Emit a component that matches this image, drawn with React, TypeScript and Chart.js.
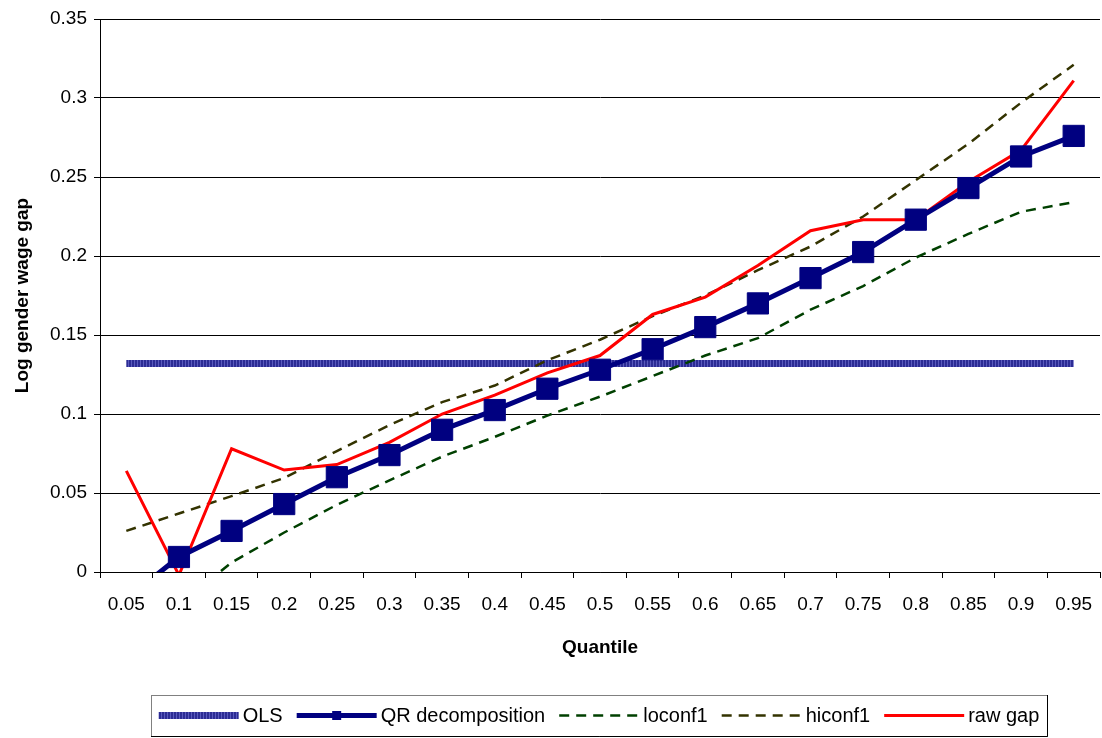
import React, { useEffect, useRef } from 'react';
import { Chart, registerables } from 'chart.js';

Chart.register(...registerables);

const quantiles = ['0.05', '0.1', '0.15', '0.2', '0.25', '0.3', '0.35', '0.4', '0.45', '0.5', '0.55', '0.6', '0.65', '0.7', '0.75', '0.8', '0.85', '0.9', '0.95'];
const olsValues = [0.132, 0.132, 0.132, 0.132, 0.132, 0.132, 0.132, 0.132, 0.132, 0.132, 0.132, 0.132, 0.132, 0.132, 0.132, 0.132, 0.132, 0.132, 0.132];
const qrValues = [-0.017, 0.0095, 0.026, 0.043, 0.06, 0.074, 0.09, 0.1025, 0.116, 0.128, 0.141, 0.155, 0.17, 0.186, 0.2025, 0.223, 0.243, 0.263, 0.276];
const loconfValues = [-0.045, -0.021, 0.006, 0.025, 0.0425, 0.058, 0.073, 0.0855, 0.099, 0.111, 0.124, 0.137, 0.148, 0.166, 0.181, 0.199, 0.214, 0.228, 0.234];
const hiconfValues = [0.026, 0.037, 0.048, 0.0595, 0.0765, 0.093, 0.1075, 0.118, 0.134, 0.147, 0.162, 0.175, 0.191, 0.206, 0.225, 0.248, 0.271, 0.297, 0.321];
const rawGapValues = [0.064, -0.002, 0.078, 0.0645, 0.068, 0.082, 0.1, 0.112, 0.126, 0.137, 0.163, 0.174, 0.194, 0.216, 0.223, 0.223, 0.247, 0.267, 0.311];
const seriesNames = ['OLS', 'QR decomposition', 'loconf1', 'hiconf1', 'raw gap'];
const yTitle = 'Log gender wage gap';
const xTitle = 'Quantile';

const FONT = '"Liberation Sans", Arial, Helvetica, sans-serif';

export default function App() {
  const ref = useRef<HTMLCanvasElement>(null);

  useEffect(() => {
    document.body.style.margin = '0';
    document.body.style.overflow = 'hidden';
    document.documentElement.style.overflow = 'hidden';
    const canvas = ref.current!;
    const pc = document.createElement('canvas');
    pc.width = 3;
    pc.height = 8;
    const pctx = pc.getContext('2d')!;
    pctx.fillStyle = '#2c2c94';
    pctx.fillRect(0, 0, 3, 8);
    pctx.fillStyle = '#5a5abd';
    pctx.fillRect(2, 0, 1, 8);
    const olsPattern = canvas.getContext('2d')!.createPattern(pc, 'repeat')!;

    const legendPlugin = {
      id: 'boxLegend',
      afterDraw(chart: any) {
        const ctx: CanvasRenderingContext2D = chart.ctx;
        const area = chart.chartArea;
        ctx.save();
        ctx.font = `20px ${FONT}`;
        const sampleLen = 80;
        const gapST = 4;
        const gapItem = 14;
        const widths = seriesNames.map((n) => ctx.measureText(n).width);
        const content = widths.reduce((a, b) => a + b, 0) + seriesNames.length * (sampleLen + gapST) + (seriesNames.length - 1) * gapItem;
        const boxW = 896;
        const cx = (area.left + area.right) / 2 - 1;
        const left = Math.round(cx - boxW / 2);
        const top = 695;
        const h = 41;
        ctx.fillStyle = '#fff';
        ctx.fillRect(left, top, boxW, h);
        ctx.strokeStyle = '#808080';
        ctx.lineWidth = 1;
        ctx.strokeRect(left + 0.5, top + 0.5, boxW, h);
        ctx.strokeStyle = '#000';
        ctx.beginPath();
        ctx.moveTo(left + boxW + 0.5, top);
        ctx.lineTo(left + boxW + 0.5, top + h + 0.5);
        ctx.lineTo(left, top + h + 0.5);
        ctx.stroke();
        let x = left + (boxW - content) / 2;
        const y = top + h / 2;
        ctx.textBaseline = 'middle';
        ctx.textAlign = 'left';
        seriesNames.forEach((name, i) => {
          ctx.save();
          if (i === 0) {
            ctx.fillStyle = olsPattern;
            ctx.fillRect(x, y - 3.5, sampleLen, 7);
          } else if (i === 1) {
            ctx.strokeStyle = '#000080';
            ctx.lineWidth = 5;
            ctx.beginPath();
            ctx.moveTo(x, y);
            ctx.lineTo(x + sampleLen, y);
            ctx.stroke();
            ctx.fillStyle = '#000080';
            ctx.fillRect(x + sampleLen / 2 - 4.5, y - 4.5, 9, 9);
          } else if (i === 2 || i === 3) {
            ctx.strokeStyle = i === 2 ? '#004000' : '#333300';
            ctx.lineWidth = 2.5;
            ctx.setLineDash([10, 7]);
            ctx.beginPath();
            ctx.moveTo(x, y);
            ctx.lineTo(x + sampleLen, y);
            ctx.stroke();
          } else {
            ctx.strokeStyle = '#ff0000';
            ctx.lineWidth = 3;
            ctx.beginPath();
            ctx.moveTo(x, y);
            ctx.lineTo(x + sampleLen, y);
            ctx.stroke();
          }
          ctx.restore();
          x += sampleLen + gapST;
          ctx.fillStyle = '#000';
          ctx.fillText(name, x, y + 1);
          x += widths[i] + gapItem;
        });
        ctx.restore();
      },
    };

    const chart = new Chart(canvas, {
      type: 'line',
      data: {
        labels: quantiles,
        datasets: [
          {
            label: seriesNames[0],
            data: olsValues,
            borderColor: olsPattern as any,
            borderWidth: 7,
            pointRadius: 0,
            tension: 0,
            order: 4,
          },
          {
            label: seriesNames[1],
            data: qrValues,
            borderColor: '#000080',
            borderWidth: 5,
            pointStyle: 'rect',
            pointRadius: 15,
            pointBackgroundColor: '#000080',
            pointBorderColor: '#000080',
            pointBorderWidth: 1,
            tension: 0,
            order: 0,
          },
          {
            label: seriesNames[2],
            data: loconfValues,
            borderColor: '#004000',
            borderWidth: 2.5,
            borderDash: [10, 7],
            pointRadius: 0,
            tension: 0,
            order: 2,
          },
          {
            label: seriesNames[3],
            data: hiconfValues,
            borderColor: '#333300',
            borderWidth: 2.5,
            borderDash: [10, 7],
            pointRadius: 0,
            tension: 0,
            order: 3,
          },
          {
            label: seriesNames[4],
            data: rawGapValues,
            borderColor: '#ff0000',
            borderWidth: 3,
            pointRadius: 0,
            tension: 0,
            order: 1,
          },
        ],
      },
      options: {
        animation: false,
        responsive: true,
        maintainAspectRatio: false,
        layout: { autoPadding: false, padding: { top: 19, right: 2, left: 0, bottom: 0 } },
        plugins: {
          legend: { display: false },
          tooltip: { enabled: false },
        },
        scales: {
          x: {
            offset: true,
            grid: { display: true, drawOnChartArea: false, drawTicks: true, tickLength: 6, color: '#000', offset: true },
            border: { display: true, color: '#000', width: 1 },
            ticks: { color: '#000', font: { family: FONT, size: 19 }, padding: 15, maxRotation: 0, autoSkip: false },
            title: {
              display: true,
              text: xTitle,
              color: '#000',
              font: { family: FONT, size: 19, weight: 'bold' },
              padding: { top: 0, bottom: 79 },
            },
            afterFit: (s: any) => {
              s.height = 166;
              s.paddingLeft = 0;
              s.paddingRight = 0;
            },
          },
          y: {
            min: 0,
            max: 0.35,
            ticks: {
              stepSize: 0.05,
              color: '#000',
              font: { family: FONT, size: 19 },
              padding: 7,
              callback: (v: any) => String(Number(Number(v).toFixed(2))),
            },
            grid: { color: '#000', lineWidth: 1, tickLength: 6, drawTicks: true },
            border: { display: true, color: '#000', width: 1 },
            title: {
              display: true,
              text: yTitle,
              color: '#000',
              font: { family: FONT, size: 19, weight: 'bold' },
              padding: { top: 11, bottom: 0 },
            },
            afterFit: (s: any) => {
              s.width = 100;
            },
          },
        },
      },
      plugins: [legendPlugin],
    });

    return () => chart.destroy();
  }, []);

  return (
    <div style={{ position: 'fixed', left: 0, top: 0, width: 1102, height: 738, background: '#fff', overflow: 'hidden' }}>
      <canvas ref={ref} style={{ display: 'block' }} />
    </div>
  );
}
